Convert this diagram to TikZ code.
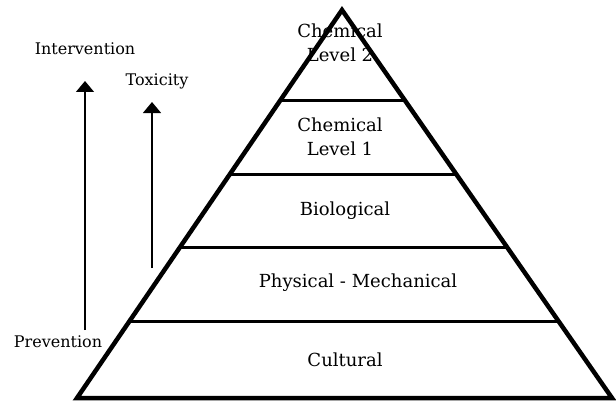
\documentclass[tikz,border=0pt]{standalone}
\usepackage{fontspec}
\setmainfont{DejaVu Serif}
\usetikzlibrary{arrows.meta,calc}
\begin{document}
\begin{tikzpicture}[x=1pt,y=-1pt,
  edge/.style={line width=4.5pt,line join=miter},
  divider/.style={line width=3pt},
  lvl/.style={font=\fontsize{18}{24}\selectfont,align=center,inner sep=0pt},
  side/.style={font=\fontsize{16}{18}\selectfont,inner sep=0pt},
  uparrow/.style={line width=1.4pt,-{Triangle[width=18pt,length=11pt]}}]
\useasboundingbox (0,0) rectangle (616,404);
\coordinate (apex) at (342,10);
\coordinate (bl) at (77,398);
\coordinate (br) at (612,398);
\draw[edge] (bl) -- (apex) -- (br) -- cycle;
\foreach \t/\n in {0.232/a,0.423/b,0.611/c,0.804/d}{
  \draw[divider] ($(apex)!\t!(bl)$) coordinate (L\n) -- ($(apex)!\t!(br)$) coordinate (R\n);
}
\node[lvl] (c2) at (340,43) {Chemical\\Level 2};
\node[lvl] (c1) at (340,137) {Chemical\\Level 1};
\node[lvl] (bio) at (345,211) {Biological};
\node[lvl] (phys) at (358,283) {Physical - Mechanical};
\node[lvl] (cult) at (345,360) {Cultural};
\node[side] (interv) at (85,49) {Intervention};
\node[side] (tox) at (157,81) {Toxicity};
\node[side] (prev) at (58,342) {Prevention};
\coordinate (a1s) at (85,330);
\coordinate (a1e) at (85,81);
\coordinate (a2s) at (152,268);
\coordinate (a2e) at (152,102);
\draw[uparrow] (a1s) -- (a1e);
\draw[uparrow] (a2s) -- (a2e);
\end{tikzpicture}
\end{document}
